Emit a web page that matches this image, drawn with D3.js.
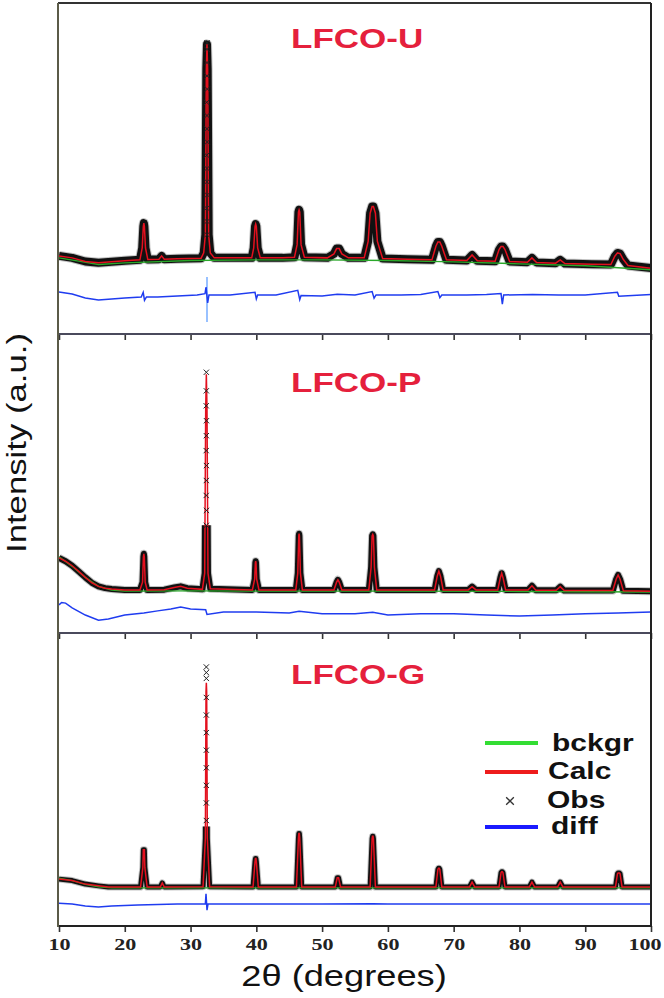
<!DOCTYPE html>
<html>
<head>
<meta charset="utf-8">
<script src="https://cdn.jsdelivr.net/npm/d3@7"></script>
<style>
  body { margin: 0; background: #fff; }
  svg { display: block; }
</style>
</head>
<body>
<div id="chart"></div>
<script>
// x axis ticks (2theta, degrees)
const xTicks = [10, 20, 30, 40, 50, 60, 70, 80, 90, 100];
const sampleNames = ["LFCO-U", "LFCO-P", "LFCO-G"];

// fitted profiles, [2theta, intensity in % of panel height]
const profileU = [[10,23.6],[12,23.0],[14,21.9],[16,21.5],[18,21.8],[20,22.1],[22.3,22.4],
  [22.65,26.0],[22.82,32.5],[22.9,33.5],[22.98,32.5],[23.15,26.0],[23.5,22.5],
  [25.2,22.6],[25.6,23.6],[26.0,22.6],[28,22.7],[31.6,22.9],
  [32.0,24.5],[32.25,30],[32.4,80],[32.5,87.5],[32.6,80],[32.75,30],[33.0,24.5],[33.6,23.0],
  [37,23.0],[39.3,23.0],[39.6,26],[39.8,32.5],[39.9,33.2],[40.0,32.5],[40.2,26],[40.6,23.0],
  [44,23.0],[45.8,23.2],[46.2,27],[46.4,36.8],[46.5,37.5],[46.6,36.8],[46.8,27],[47.3,23.2],
  [50.8,23.0],[51.8,24.2],[52.2,25.8],[52.6,25.8],[53.0,24.2],[54,23.0],[56.4,23.0],
  [57.0,28],[57.3,36.5],[57.6,38.5],[57.8,38.5],[58.1,36.5],[58.4,28],[59.2,22.8],
  [63,22.6],[66.7,22.4],[67.3,26.5],[67.6,27.8],[67.9,27.8],[68.2,26.5],[68.9,22.4],
  [72.0,22.2],[72.8,23.9],[73.6,22.1],[76.3,22.0],[76.9,25.5],[77.2,26.4],[77.5,26.4],[77.8,25.5],[78.5,21.9],
  [81.2,21.7],[81.9,23.0],[82.6,21.6],[85.5,21.4],[86.2,22.4],[86.9,21.3],[91,21.1],
  [93.9,21.0],[94.5,23.5],[94.9,24.5],[95.3,24.3],[95.8,22.5],[96.5,20.7],[100,19.9]];

const profileP = [[10,25.1],[11,24.0],[12,22.5],[13,20.6],[14,18.6],[15,16.8],[16,15.6],[17,15.0],[18,14.7],[20,14.4],[22.3,14.4],
  [22.7,17],[22.83,25.5],[22.9,26.5],[22.97,25.5],[23.1,17],[23.4,14.4],
  [26,14.5],[27.5,15.2],[28.5,15.6],[29.5,15.0],[31.8,14.6],
  [32.15,20],[32.3,75],[32.4,86.5],[32.5,75],[32.65,20],[33.0,14.8],
  [39.4,14.4],[39.75,18],[39.85,23.5],[39.9,24.0],[39.95,23.5],[40.05,18],[40.4,14.4],
  [46.0,14.4],[46.3,20],[46.45,32.5],[46.5,33.2],[46.55,32.5],[46.7,20],[47.0,14.4],
  [51.8,14.4],[52.2,17.0],[52.4,17.8],[52.6,17.0],[53.0,14.4],
  [57.1,14.4],[57.45,22],[57.6,32.5],[57.7,33.0],[57.8,32.5],[57.95,22],[58.3,14.4],
  [62,14.4],[67.1,14.4],[67.5,19],[67.75,20.7],[68.0,19],[68.4,14.4],
  [72.2,14.4],[72.8,15.5],[73.4,14.4],[76.7,14.4],[77.1,18.5],[77.3,20.0],[77.5,18.5],[77.9,14.4],
  [81.3,14.4],[81.9,15.8],[82.5,14.3],[85.6,14.3],[86.2,15.5],[86.8,14.2],
  [94.2,14.2],[94.7,18.0],[95.0,19.4],[95.3,18.0],[95.8,14.1],[100,14.0]];

const profileG = [[10,16.0],[12,15.5],[14,14.3],[16,13.7],[17.5,13.3],[22.4,13.3],
  [22.75,20],[22.82,26],[22.98,26],[23.05,20],[23.4,13.3],
  [25.4,13.3],[25.7,14.7],[26.0,13.3],[31.9,13.4],
  [32.25,30],[32.35,80],[32.4,83],[32.45,80],[32.55,30],[32.9,13.4],
  [39.5,13.3],[39.8,22],[39.86,23],[39.94,23],[40.0,22],[40.3,13.3],
  [46.1,13.3],[46.4,30],[46.46,31.6],[46.54,31.6],[46.6,30],[46.9,13.3],
  [52.0,13.3],[52.3,16.5],[52.5,16.5],[52.8,13.3],
  [57.3,13.3],[57.6,29.8],[57.66,30.6],[57.74,30.6],[57.8,29.8],[58.1,13.3],
  [67.3,13.3],[67.6,19.3],[67.7,19.7],[67.8,19.7],[67.9,19.3],[68.2,13.3],
  [72.4,13.3],[72.8,15.0],[73.2,13.3],[76.9,13.3],[77.2,18.2],[77.3,18.5],[77.4,18.5],[77.5,18.2],[77.8,13.3],
  [81.5,13.3],[81.9,15.0],[82.3,13.3],[85.8,13.3],[86.2,15.0],[86.6,13.3],
  [94.6,13.3],[94.9,17.8],[95.0,18.1],[95.2,18.1],[95.3,17.8],[95.6,13.3],[100,13.3]];

// observed points visible along the strongest reflection
const obsPeakU = [[32.5,30],[32.5,34],[32.45,38],[32.55,42],[32.5,46],[32.5,50],[32.45,54],[32.55,58],
  [32.5,62],[32.5,66],[32.45,70],[32.55,74],[32.5,78],[32.5,82],[32.5,86],[32.5,88]];
const obsPeakP = [[32.4,36],[32.42,41],[32.38,46],[32.4,51],[32.42,56],[32.38,61],[32.4,66],[32.42,71],[32.38,76],[32.4,81],[32.4,87.2]];
const obsPeakG = [[32.4,36],[32.4,42],[32.4,48],[32.4,54],[32.4,60],[32.4,66],[32.4,72],[32.4,78],[32.4,84.5],[32.4,86.5],[32.4,88.4]];

// background
const bgU = [[10,23.0],[13,22.0],[16,21.0],[20,21.5],[30,22.2],[40,22.4],[50,22.4],[60,22.2],[70,21.8],[80,21.2],[90,20.6],[100,19.4]];
const bgP = [[10,25.5],[12,22.3],[14,18.6],[16,15.6],[18,14.4],[20,14.0],[30,14.1],[40,14.0],[60,14.0],[80,13.9],[100,13.7]];
const bgG = [[10,16.3],[12,15.5],[14,14.2],[16,13.4],[18,13.0],[30,13.0],[60,13.0],[100,13.0]];

// difference curves
const diffU = [[10,12.7],[12,12.1],[14,10.9],[16,10.3],[18,10.6],[20,10.9],[22.5,11.2],[22.8,12.6],[23.0,10.2],[23.3,11.2],
  [25,11.2],[28,11.5],[31,11.8],[32.2,12.2],[32.35,14.2],[32.6,9.4],[32.8,11.8],[36,11.8],[39.8,12.6],[40.0,10.6],[40.2,11.8],
  [43,11.8],[46.3,13.2],[46.6,10.4],[46.8,11.6],[50,11.5],[52.3,12.0],[55,11.8],[57.6,12.8],[57.9,10.8],[58.2,11.8],
  [62,11.8],[65,11.9],[67.6,12.8],[67.9,11.0],[68.2,11.8],[72,11.8],[75,11.9],[77.2,12.2],[77.4,9.0],[77.6,11.8],
  [82,11.9],[86,11.8],[90,11.8],[94.9,12.6],[95.1,11.4],[100,11.9]];
const diffP = [[10,9.4],[10.4,10.2],[11,10.0],[12,8.4],[14,6.0],[16,4.3],[17.5,4.7],[20,6.0],[22.9,6.7],[25,7.4],[27,8.0],
  [28.5,8.7],[30,8.0],[32.3,7.8],[32.5,6.2],[35,7.0],[40,7.0],[45,6.7],[46.5,7.3],[50,6.4],[55,6.4],[57.7,6.9],[60,6.0],
  [65,6.4],[70,6.4],[75,6.0],[80,5.7],[85,6.0],[90,6.4],[95,6.7],[100,7.0]];
const diffG = [[10,7.8],[12,7.5],[14,6.8],[16,6.5],[18,6.8],[22,7.2],[28,7.5],[32.25,7.6],[32.35,11.0],[32.5,5.4],[32.65,7.5],
  [34,7.5],[40,7.5],[46.5,7.5],[50,7.5],[57.7,7.6],[60,7.5],[70,7.5],[80,7.5],[90,7.5],[100,7.5]];
const diffSpikeU = [[32.5,17.2],[32.5,3.6]];

const legendItems = ["bckgr", "Calc", "Obs", "diff"];

const width = 664, height = 998;
const left = 58, right = 651;
// bandCut: above this level the dense obs band thins out to single crosses
const panels = [
  { top: 3, bottom: 334, profile: profileU, obs: obsPeakU, bg: bgU, diff: diffU, spike: diffSpikeU, band: 8, bandCut: 100, labelY: 48 },
  { top: 334, bottom: 633, profile: profileP, obs: obsPeakP, bg: bgP, diff: diffP, spike: null, band: 6, bandCut: 36, labelY: 392 },
  { top: 633, bottom: 926, profile: profileG, obs: obsPeakG, bg: bgG, diff: diffG, spike: null, band: 5, bandCut: 34, labelY: 684 }
];

const svg = d3.select("#chart").append("svg").attr("width", width).attr("height", height);
const defs = svg.append("defs");
defs.append("clipPath").attr("id", "plotclip")
  .append("rect").attr("x", left).attr("y", 3).attr("width", right - left).attr("height", 923);

const x = d3.scaleLinear().domain([10, 100]).range([59, 651]);

const fontSans = "'Liberation Sans', Arial, sans-serif";

panels.forEach((p, i) => {
  const y = d3.scaleLinear().domain([0, 100]).range([p.bottom, p.top]);
  const line = d3.line().x((d) => x(d[0])).y((d) => y(d[1]));
  const g = svg.append("g").attr("clip-path", "url(#plotclip)");

  defs.append("clipPath").attr("id", "band" + i)
    .append("rect").attr("x", left).attr("y", y(p.bandCut))
    .attr("width", right - left).attr("height", p.bottom - y(p.bandCut));

  // observed: dense crosses merge into a dark band
  const band = g.append("g").attr("clip-path", `url(#band${i})`);
  band.append("path").datum(p.profile).attr("d", line)
    .attr("fill", "none").attr("stroke", "#888").attr("stroke-opacity", 0.5)
    .attr("stroke-width", p.band + 2).attr("stroke-linejoin", "round");
  band.append("path").datum(p.profile).attr("d", line)
    .attr("fill", "none").attr("stroke", "#111")
    .attr("stroke-width", p.band).attr("stroke-linejoin", "round");

  // background
  g.append("path").datum(p.bg).attr("d", line)
    .attr("fill", "none").attr("stroke", "#2aa82a").attr("stroke-width", 1.4);

  // calc
  g.append("path").datum(p.profile).attr("d", line)
    .attr("fill", "none").attr("stroke", "#e3101e").attr("stroke-width", 1.5);

  g.selectAll(".obs" + i).data(p.obs).join("path")
    .attr("transform", (d) => `translate(${x(d[0])},${y(d[1])})`)
    .attr("d", d3.symbol(d3.symbolX, 20))
    .attr("fill", "none").attr("stroke", "#222").attr("stroke-width", 1);

  if (p.spike) {
    g.append("path").datum(p.spike).attr("d", line)
      .attr("fill", "none").attr("stroke", "#7fb2ff").attr("stroke-width", 1.6);
  }
  g.append("path").datum(p.diff).attr("d", line)
    .attr("fill", "none").attr("stroke", "#1f3cf0").attr("stroke-width", 1.5);

  // bottom axis of each panel
  const axis = d3.axisBottom(x).tickValues(xTicks).tickSize(6).tickSizeOuter(0);
  if (i < 2) axis.tickFormat("");
  const ax = svg.append("g").attr("transform", `translate(0,${p.bottom})`).call(axis);
  ax.select(".domain").remove();
  ax.selectAll(".tick line").attr("stroke", "#333").attr("stroke-width", 1.6);
  ax.selectAll(".tick text")
    .attr("x", (d) => (d === 100 ? -5 : 0))
    .attr("y", 12).attr("dy", "0.71em")
    .attr("transform", "scale(1.3,1)")
    .style("font-family", "'Liberation Serif', 'Times New Roman', serif")
    .style("font-weight", "bold").style("font-size", "17px").attr("fill", "#222");

  // separator / frame line
  svg.append("line").attr("x1", left).attr("x2", right)
    .attr("y1", p.bottom).attr("y2", p.bottom)
    .attr("stroke", i < 2 ? "#4a4a5c" : "#222").attr("stroke-width", 2);

  svg.append("g").attr("transform", `translate(291,${p.labelY}) scale(1.25,1)`)
    .append("text").text(sampleNames[i])
    .style("font-family", fontSans)
    .style("font-weight", "bold").style("font-size", "28px").attr("fill", "#e5203c");
});

// frame
svg.append("line").attr("x1", left).attr("x2", right).attr("y1", 3).attr("y2", 3)
  .attr("stroke", "#333").attr("stroke-width", 2);
svg.append("line").attr("x1", left).attr("x2", left).attr("y1", 3).attr("y2", 927)
  .attr("stroke", "#5b5b48").attr("stroke-width", 2);
svg.append("line").attr("x1", right).attr("x2", right).attr("y1", 3).attr("y2", 927)
  .attr("stroke", "#222").attr("stroke-width", 2);

// legend
const legendColors = ["#33dd33", "#ee1c1c", null, "#1a1aff"];
const legendY = [743, 772, 801, 827];
const legendTextX = [552, 548, 547, 551];
const legendBase = [751, 779, 808, 834];
legendItems.forEach((name, i) => {
  if (legendColors[i]) {
    svg.append("line").attr("x1", 485).attr("x2", 538)
      .attr("y1", legendY[i]).attr("y2", legendY[i])
      .attr("stroke", legendColors[i]).attr("stroke-width", 4);
  } else {
    svg.append("path").attr("transform", `translate(510,${legendY[i]})`)
      .attr("d", d3.symbol(d3.symbolX, 40))
      .attr("fill", "none").attr("stroke", "#333").attr("stroke-width", 1.3);
  }
  svg.append("g").attr("transform", `translate(${legendTextX[i]},${legendBase[i]}) scale(1.25,1)`)
    .append("text").text(name)
    .style("font-family", fontSans)
    .style("font-weight", "bold").style("font-size", "24px").attr("fill", "#111");
});

// axis titles
svg.append("g").attr("transform", "translate(344,986) scale(1.25,1)")
  .append("text").attr("text-anchor", "middle").text("2θ (degrees)")
  .style("font-family", fontSans)
  .style("font-size", "29px").attr("fill", "#111");

svg.append("g").attr("transform", "translate(16,443) scale(1.25,1) rotate(-90)")
  .append("text").attr("text-anchor", "middle").attr("dy", "0.35em")
  .attr("textLength", 220).attr("lengthAdjust", "spacingAndGlyphs")
  .text("Intensity (a.u.)")
  .style("font-family", fontSans)
  .style("font-size", "22px").attr("fill", "#111");
</script>
</body>
</html>
